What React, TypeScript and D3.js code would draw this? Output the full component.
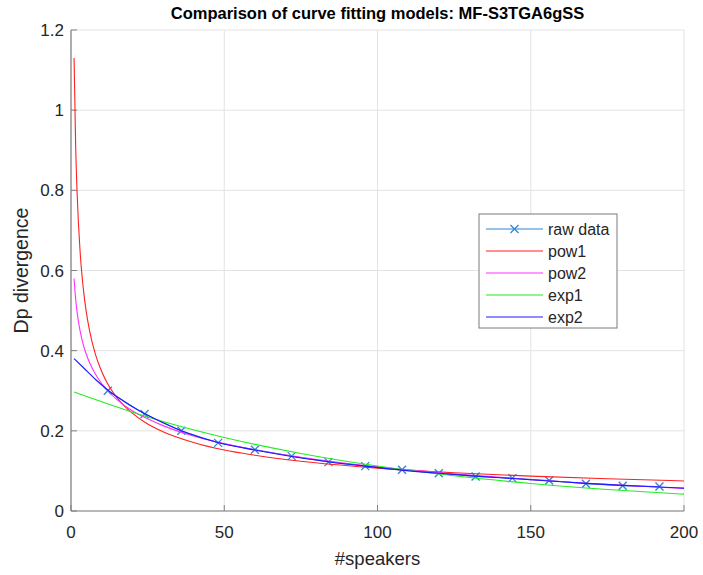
import React from "react";
import * as d3 from "d3";

const rawX = [12, 24, 36, 48, 60, 72, 84, 96, 108, 120, 132, 144, 156, 168, 180, 192];
const rawY = [0.300, 0.242, 0.200, 0.170, 0.153, 0.137, 0.122, 0.112, 0.103, 0.094, 0.086, 0.082, 0.076, 0.068, 0.063, 0.061];

const pow1X = [1, 1.5, 2, 3, 4, 5, 6, 8, 10, 12, 15, 20, 25, 30, 40, 50, 60, 75, 100, 125, 150, 175, 200];
const pow1Y = [1.13, 0.918, 0.792, 0.644, 0.556, 0.496, 0.452, 0.390, 0.348, 0.317, 0.283, 0.244, 0.217, 0.198, 0.171, 0.152, 0.139, 0.124, 0.107, 0.0954, 0.0869, 0.0803, 0.075];

const pow2X = [1, 1.5, 2, 3, 4, 5, 6, 8, 10, 12, 15, 20, 25, 30, 40, 50, 60, 75, 100, 125, 150, 175, 200];
const pow2Y = [0.580, 0.530, 0.495, 0.448, 0.415, 0.391, 0.371, 0.341, 0.318, 0.300, 0.278, 0.250, 0.230, 0.213, 0.187, 0.168, 0.152, 0.134, 0.110, 0.0925, 0.078, 0.0665, 0.056];

const exp1X = [1, 25, 50, 75, 100, 125, 150, 175, 200];
const exp1Y = [0.297, 0.2346, 0.1835, 0.1435, 0.1122, 0.0878, 0.0686, 0.0537, 0.042];

const exp2X = [1, 4, 8, 12, 16, 20, 24, 30, 36, 42, 48, 60, 72, 84, 96, 108, 120, 132, 144, 156, 168, 180, 192, 200];
const exp2Y = [0.380, 0.358, 0.328, 0.302, 0.280, 0.260, 0.243, 0.220, 0.200, 0.184, 0.171, 0.152, 0.136, 0.123, 0.112, 0.102, 0.094, 0.087, 0.081, 0.075, 0.069, 0.064, 0.060, 0.057];

const xTicks = [0, 50, 100, 150, 200];
const yTicks = [0, 0.2, 0.4, 0.6, 0.8, 1, 1.2];
const yTickLabels = ["0", "0.2", "0.4", "0.6", "0.8", "1", "1.2"];

const seriesNames = ["raw data", "pow1", "pow2", "exp1", "exp2"];
const seriesColors = ["#2e86cf", "#ff2020", "#ff30ff", "#20ee20", "#1a1aff"];

const W = 703, H = 575;
const L = 71, R = 684, T = 30, B = 511;
const FONT = "'Liberation Sans', Arial, Helvetica, sans-serif";
const TXT = "#262626";

export default function App() {
  const x = d3.scaleLinear().domain([0, 200]).range([L, R]);
  const y = d3.scaleLinear().domain([0, 1.2]).range([B, T]);
  const mk = (xs: number[], ys: number[], curve: any) =>
    d3.line<number>().x((_, i) => x(xs[i])).y((_, i) => y(ys[i])).curve(curve)(xs) || "";

  const rawPath = mk(rawX, rawY, d3.curveLinear);
  const fits = [
    { d: mk(pow1X, pow1Y, d3.curveMonotoneX), c: seriesColors[1] },
    { d: mk(pow2X, pow2Y, d3.curveMonotoneX), c: seriesColors[2] },
    { d: mk(exp1X, exp1Y, d3.curveMonotoneX), c: seriesColors[3] },
    { d: mk(exp2X, exp2Y, d3.curveMonotoneX), c: seriesColors[4] },
  ];

  const lgX = 479, lgY = 214, lgW = 138, lgH = 114;
  const rowH = 22;

  return (
    <svg width={W} height={H} style={{ position: "absolute", left: 0, top: 0, background: "#fff" }} fontFamily={FONT}>
      <rect x={0} y={0} width={W} height={H} fill="#fff" />
      {xTicks.map((t) => (
        <line key={"gx" + t} x1={x(t)} x2={x(t)} y1={T} y2={B} stroke="#e3e3e3" strokeWidth={1} />
      ))}
      {yTicks.map((t) => (
        <line key={"gy" + t} x1={L} x2={R} y1={y(t)} y2={y(t)} stroke="#e3e3e3" strokeWidth={1} />
      ))}
      <line x1={L} x2={L} y1={T} y2={B} stroke="#808080" strokeWidth={1.2} />
      <line x1={L} x2={R} y1={B} y2={B} stroke="#808080" strokeWidth={1.2} />
      {xTicks.map((t) => (
        <line key={"tx" + t} x1={x(t)} x2={x(t)} y1={B} y2={B - 6} stroke="#808080" strokeWidth={1} />
      ))}
      {yTicks.map((t) => (
        <line key={"ty" + t} x1={L} x2={L + 6} y1={y(t)} y2={y(t)} stroke="#808080" strokeWidth={1} />
      ))}
      {xTicks.map((t) => (
        <text key={"lx" + t} x={x(t)} y={B + 27} textAnchor="middle" fontSize={17} fill={TXT}>{t}</text>
      ))}
      {yTicks.map((t, i) => (
        <text key={"ly" + t} x={L - 7} y={y(t) + 6} textAnchor="end" fontSize={17} fill={TXT}>{yTickLabels[i]}</text>
      ))}
      <path d={rawPath} fill="none" stroke={seriesColors[0]} strokeWidth={1} />
      {rawX.map((v, i) => (
        <g key={"m" + i} stroke={seriesColors[0]} strokeWidth={1.3}>
          <line x1={x(v) - 4} x2={x(v) + 4} y1={y(rawY[i]) - 4} y2={y(rawY[i]) + 4} />
          <line x1={x(v) - 4} x2={x(v) + 4} y1={y(rawY[i]) + 4} y2={y(rawY[i]) - 4} />
        </g>
      ))}
      {fits.map((f, i) => (
        <path key={"f" + i} d={f.d} fill="none" stroke={f.c} strokeWidth={1.1} />
      ))}
      <text x={(L + R) / 2} y={19} textAnchor="middle" fontSize={16.5} fontWeight="bold" fill="#000">
        Comparison of curve fitting models: MF-S3TGA6gSS
      </text>
      <text x={(L + R) / 2} y={565} textAnchor="middle" fontSize={18.5} fill={TXT}>#speakers</text>
      <text transform={`translate(28, ${(T + B) / 2}) rotate(-90)`} textAnchor="middle" fontSize={19.5} fill={TXT}>Dp divergence</text>
      <rect x={lgX} y={lgY} width={lgW} height={lgH} fill="#fff" stroke="#7a7a7a" strokeWidth={1} />
      {seriesNames.map((n, i) => {
        const cy = lgY + 15 + i * rowH;
        return (
          <g key={"lg" + i}>
            <line x1={lgX + 7} x2={lgX + 64} y1={cy} y2={cy} stroke={seriesColors[i]} strokeWidth={1.1} />
            {i === 0 && (
              <g stroke={seriesColors[0]} strokeWidth={1.3}>
                <line x1={lgX + 35.5 - 4} x2={lgX + 35.5 + 4} y1={cy - 4} y2={cy + 4} />
                <line x1={lgX + 35.5 - 4} x2={lgX + 35.5 + 4} y1={cy + 4} y2={cy - 4} />
              </g>
            )}
            <text x={lgX + 69} y={cy + 5.5} fontSize={16} fill={TXT}>{n}</text>
          </g>
        );
      })}
    </svg>
  );
}
